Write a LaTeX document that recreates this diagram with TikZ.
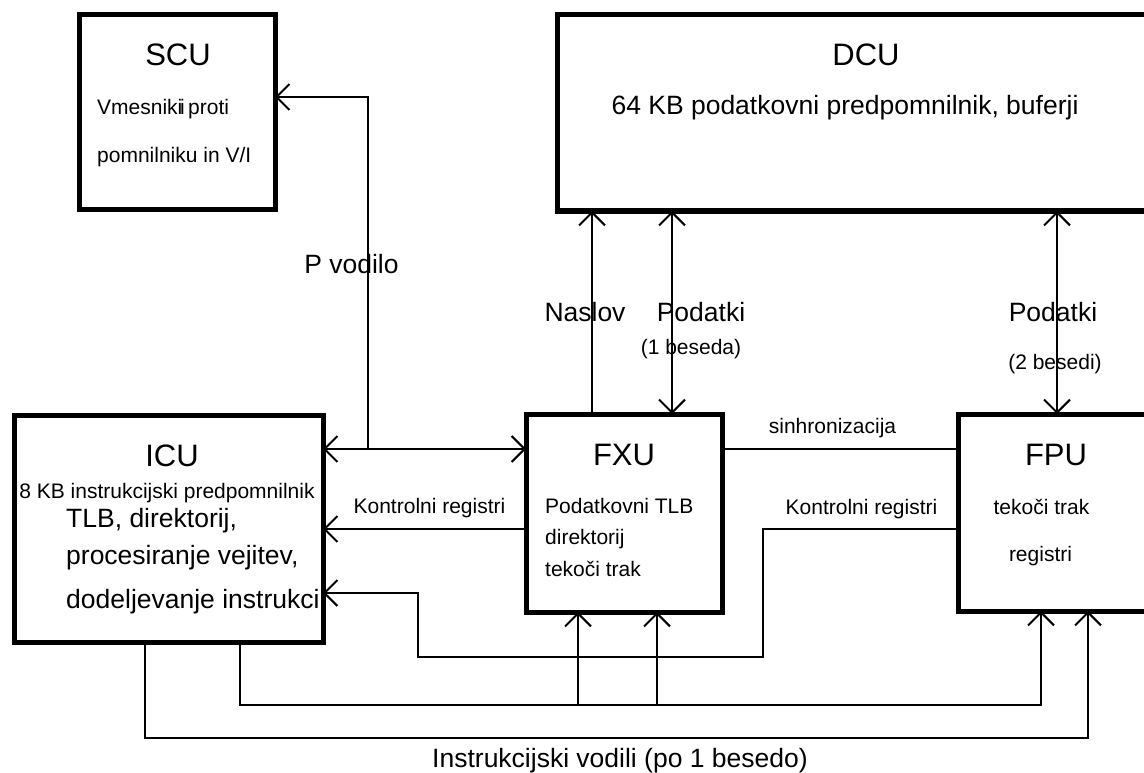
\documentclass[tikz,border=0pt]{standalone}
\usepackage{fontspec}
\setmainfont{Liberation Sans}
\usetikzlibrary{arrows.meta}
\tikzset{
  box/.style={draw, line width=5pt, outer sep=0pt, inner sep=0pt},
  conn/.style={line width=2pt},
  title/.style={font=\fontsize{31}{31}\selectfont, inner sep=0pt, text height=22pt, text depth=0pt},
  mid/.style={font=\fontsize{26.5}{26.5}\selectfont, inner sep=0pt, text height=19pt, text depth=0pt},
  small/.style={font=\fontsize{21}{21}\selectfont, inner sep=0pt, text height=15pt, text depth=0pt},
  >={Straight Barb[length=13pt,width=26pt]}
}
\begin{document}
\begin{tikzpicture}[x=1pt,y=-1pt]
\path[use as bounding box, clip] (0,0) rectangle (1144,773);
\fill[white] (0,0) rectangle (1144,773);
% boxes
\node[box, minimum width=196pt, minimum height=195pt] (scu) at (177,112.5) {};
\node[box, minimum width=603pt, minimum height=196pt] (dcu) at (858.5,113) {};
\node[box, minimum width=309pt, minimum height=227pt] (icu) at (168.5,528.5) {};
\node[box, minimum width=196pt, minimum height=198pt] (fxu) at (624,513) {};
\node[box, minimum width=202pt, minimum height=197pt] (fpu) at (1059,512.5) {};
% texts in boxes
\node[title] (scut) at (178,55) {SCU};
\node[small, anchor=west] (scua) at (97,107) {Vmesnik\rlap{\kern2.5pt i}i proti};
\node[small, anchor=west] (scub) at (97,155) {pomnilniku in V/I};
\node[title] (dcut) at (866,55) {DCU};
\node[mid] (dcua) at (845,105) {64 KB podatkovni predpomnilnik, buferji};
\node[title] (icut) at (172,455) {ICU};
\node[small] (icua) at (167,491) {8 KB instrukcijski predpomnilnik};
\node[mid, anchor=west] (icub) at (66,518) {TLB, direktorij,};
\node[mid, anchor=west] (icuc) at (66,555) {procesiranje vejitev,};
\node[mid, anchor=west] (icud) at (66,599) {dodeljevanje instrukci};
\node[title] (fxut) at (624,454) {FXU};
\node[small, anchor=west] (fxua) at (545,506) {Podatkovni TLB};
\node[small, anchor=west] (fxub) at (545,537) {direktorij};
\node[small, anchor=west] (fxuc) at (545,569) {tekoči trak};
\node[title] (fput) at (1056,454) {FPU};
\node[small] (fpua) at (1041.5,507) {tekoči trak};
\node[small] (fpub) at (1040.5,554) {registri};
% connector labels
\node[mid] (lnas) at (585,312) {Naslov};
\node[mid] (lpod) at (701,312) {Podatki};
\node[small] (lpoda) at (691,347) {(1 beseda)};
\node[mid] (lpod2) at (1053,312) {Podatki};
\node[small] (lpod2a) at (1055,362) {(2 besedi)};
\node[mid] (lpv) at (351.5,264) {P vodilo};
\node[small] (lkl) at (429.5,506) {Kontrolni registri};
\node[small] (lkr) at (861.5,507) {Kontrolni registri};
\node[small] (lsin) at (832.5,426) {sinhronizacija};
\node[mid] (lins) at (620,758) {Instrukcijski vodili (po 1 besedo)};
% coordinates
\coordinate (xNas) at (592,0);
\coordinate (xPod) at (672,0);
\coordinate (xPod2) at (1057,0);
\coordinate (xPv) at (368,0);
\coordinate (xF1) at (578,0);
\coordinate (xF2) at (657,0);
\coordinate (xP1) at (1041,0);
\coordinate (xP2) at (1088,0);
\coordinate (xI1) at (145,0);
\coordinate (xI2) at (240,0);
\coordinate (xL) at (418,0);
\coordinate (xR) at (763,0);
\coordinate (yScu) at (0,97);
\coordinate (yBus) at (0,449);
\coordinate (yK) at (0,529);
\coordinate (yLow) at (0,593);
\coordinate (yLoop) at (0,657);
\coordinate (yB1) at (0,705);
\coordinate (yB2) at (0,738);
% connectors
\draw[conn,->] (fxu.north -| xNas) -- (dcu.south -| xNas);
\draw[conn,<->] (fxu.north -| xPod) -- (dcu.south -| xPod);
\draw[conn,<->] (fpu.north -| xPod2) -- (dcu.south -| xPod2);
\draw[conn,<->] (icu.east |- yBus) -- (fxu.west |- yBus);
\coordinate (pvj) at (xPv |- yBus);
\draw[conn,->] (pvj) -- (xPv |- yScu) -- (scu.east |- yScu);
\draw[conn,->] (fxu.west |- yK) -- (icu.east |- yK);
\draw[conn] (fxu.east |- yBus) -- (fpu.west |- yBus);
\draw[conn,->] (fpu.west |- yK) -- (xR |- yK) -- (xR |- yLoop) -- (xL |- yLoop) -- (xL |- yLow) -- (icu.east |- yLow);
\draw[conn,->] (icu.south -| xI2) -- (xI2 |- yB1) -- (xP1 |- yB1) -- (fpu.south -| xP1);
\coordinate (jf1) at (xF1 |- yB1);
\coordinate (jf2) at (xF2 |- yB1);
\draw[conn,->] (jf1) -- (fxu.south -| xF1);
\draw[conn,->] (jf2) -- (fxu.south -| xF2);
\draw[conn,->] (icu.south -| xI1) -- (xI1 |- yB2) -- (xP2 |- yB2) -- (fpu.south -| xP2);
\end{tikzpicture}
\end{document}
